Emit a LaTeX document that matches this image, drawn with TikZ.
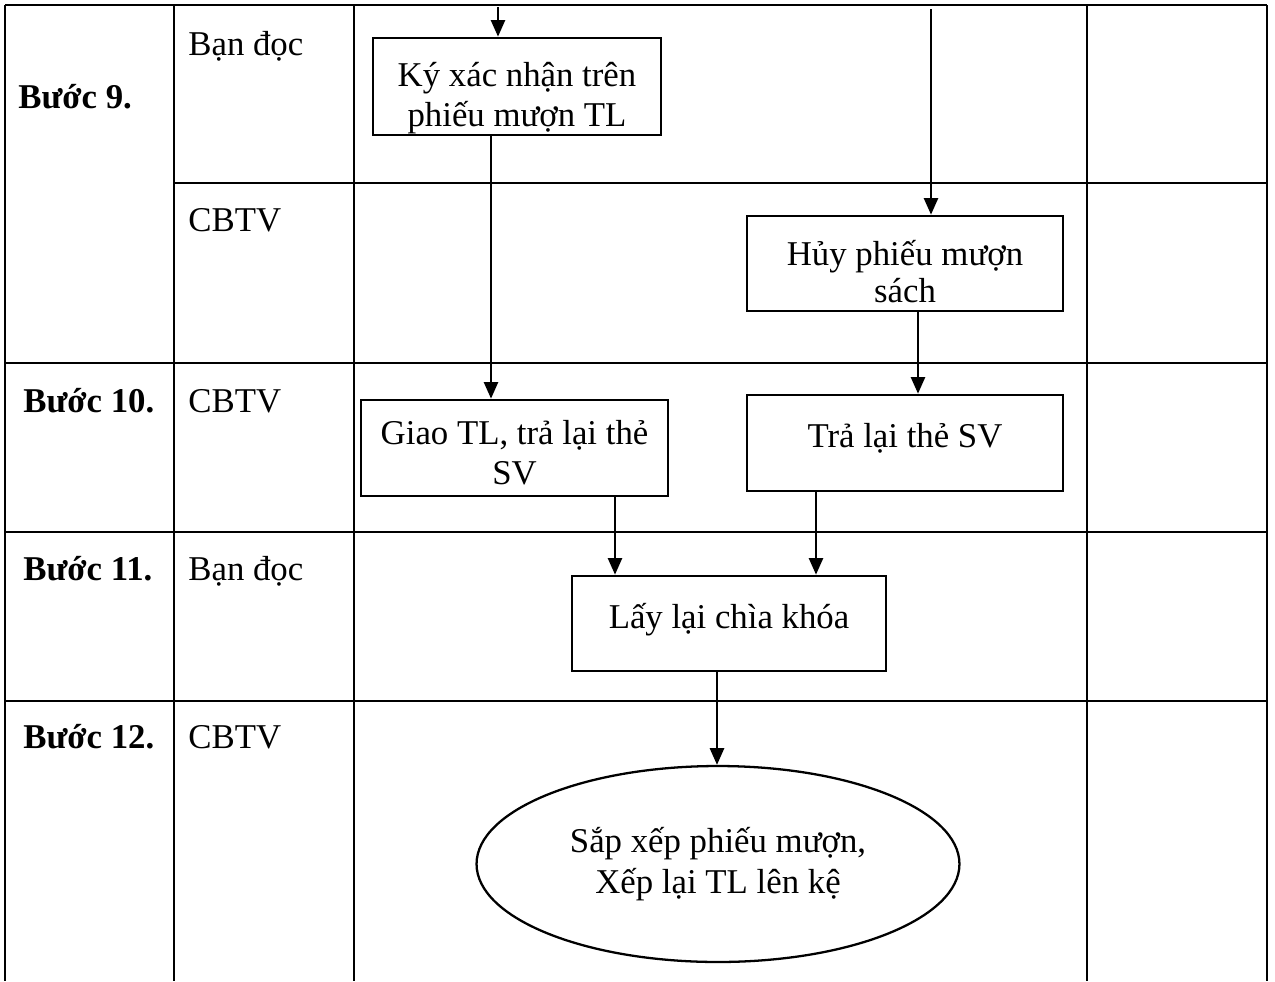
\documentclass[tikz,border=0pt]{standalone}
\usepackage{fontspec}
\setmainfont{Liberation Serif}
\usetikzlibrary{shapes.geometric, arrows.meta, positioning}

\begin{document}
\begin{tikzpicture}[x=0.02cm, y=-0.02cm, font=\fontsize{19.8}{23}\selectfont,
        grid/.style={line width=1.6pt},
        stepbox/.style={draw, line width=1.5pt, align=center, inner sep=0pt},
        flow/.style={-{Triangle[width=8pt, length=9.5pt]}, line width=1.4pt}]
    \useasboundingbox (0,0) rectangle (1275,981);
        % table grid
        \foreach \y in {5, 363, 532, 701} {
            \draw[grid] (5,\y) -- (1267,\y);
        }
        \draw[grid] (174,183) -- (1267,183);
        \foreach \x in {5, 174, 354, 1087, 1267} {
            \draw[grid] (\x,5) -- (\x,981);
        }
        % steps and actors
        \foreach \i/\xx/\y in {9/18/108, 10/23/412, 11/23/580, 12/23/748} {
            \node[anchor=base west, inner sep=0pt, font=\fontsize{19.8}{23}\selectfont\bfseries] (b\i) at (\xx,\y) {Bước \i.};
        }
        \foreach \n/\y/\who in {r9a/55/Bạn đọc, r9b/231/CBTV, r10/412/CBTV, r11/580/Bạn đọc, r12/748/CBTV} {
            \node[anchor=base west, inner sep=0pt] (\n) at (188,\y) {\who};
        }
        % flow boxes
        \node[stepbox, minimum width=5.76cm, minimum height=1.94cm, text height=50pt] (ky) at (517,86.5) {Ký xác nhận trên\\phiếu mượn TL};
        \node[stepbox, minimum width=6.32cm, minimum height=1.9cm, text height=45pt, font=\fontsize{19.8}{21.5}\selectfont] (huy) at (905,263.5) {Hủy phiếu mượn\\sách};
        \node[stepbox, minimum width=6.14cm, minimum height=1.92cm, text height=42pt] (giao) at (514.5,448) {Giao TL, trả lại thẻ\\SV};
        \node[stepbox, minimum width=6.32cm, minimum height=1.92cm, text depth=9pt] (tra) at (905,443) {Trả lại thẻ SV};
        \node[stepbox, minimum width=6.28cm, minimum height=1.9cm, text depth=9pt] (lay) at (729,623.5) {Lấy lại chìa khóa};
        \node[draw, ellipse, line width=1.3pt, minimum width=9.66cm, minimum height=3.92cm, align=center, inner sep=0pt] (sort) at (718,864) {Sắp xếp phiếu mượn,\\Xếp lại TL lên kệ};
        % connectors
        \coordinate (in9) at (498,7);
        \coordinate (inR) at (931,9);
        \draw[flow] (in9) -- (in9 |- ky.north);
        \draw[flow] (inR) -- (inR |- huy.north);
        \foreach \a/\b/\xx in {ky/giao/491, huy/tra/918, giao/lay/615, tra/lay/816, lay/sort/717} {
            \coordinate (c) at (\xx,0);
            \draw[flow] (\a.south -| c) -- (\b.north -| c);
        }
    \end{tikzpicture}
\end{document}
